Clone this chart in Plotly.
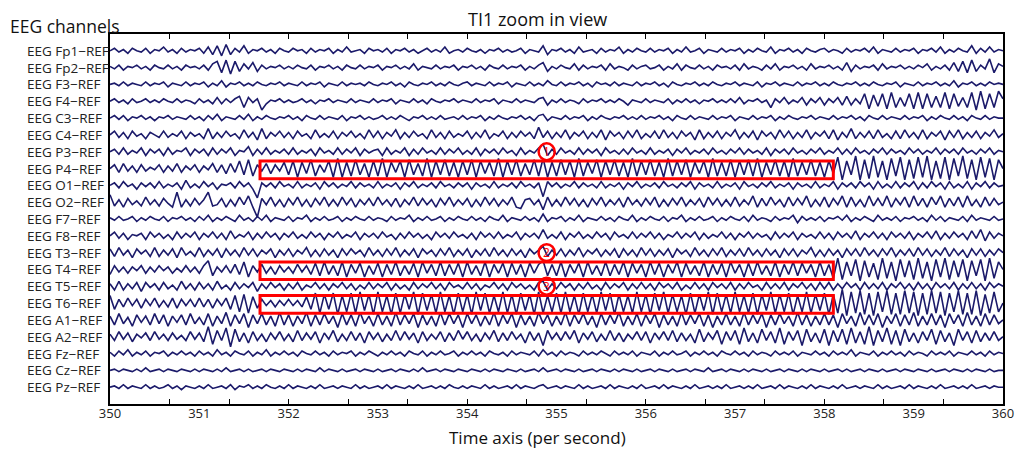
import numpy as np
import plotly.graph_objects as go

# ---------------- data (amplitudes in µV-like units, 20 samples / s) ----
T_START, T_END = 350, 360
CHANNELS = ["EEG Fp1\u2212REF", "EEG Fp2\u2212REF", "EEG F3\u2212REF", "EEG F4\u2212REF",
            "EEG C3\u2212REF", "EEG C4\u2212REF", "EEG P3\u2212REF", "EEG P4\u2212REF",
            "EEG O1\u2212REF", "EEG O2\u2212REF", "EEG F7\u2212REF", "EEG F8\u2212REF",
            "EEG T3\u2212REF", "EEG T4\u2212REF", "EEG T5\u2212REF", "EEG T6\u2212REF",
            "EEG A1\u2212REF", "EEG A2\u2212REF", "EEG Fz\u2212REF", "EEG Cz\u2212REF",
            "EEG Pz\u2212REF"]

FP1 = [0,2,-1,1,-2,2,0,-1,2,-2,1,0,3,-1,1,-2,2,-1,1,0,
       2,-2,3,-3,4,-4,5,-3,2,-1,4,-2,1,0,2,-1,1,-2,2,0,
       -1,2,0,1,-2,2,-1,1,0,2,-2,1,-1,3,-1,0,1,-2,2,0,
       1,-1,2,-2,1,0,2,-1,1,-2,0,2,-1,1,-1,3,-2,0,1,-1,
       2,0,-1,1,-2,1,0,2,-1,1,-1,0,2,-2,1,0,-1,4,-3,1,
       0,2,-1,1,-2,3,-1,0,1,-2,2,-1,1,0,3,-2,1,-1,2,0,
       -1,2,-1,1,0,2,-2,1,-1,3,-1,0,2,-2,1,0,-1,2,-1,1,
       0,2,-2,1,-1,2,0,-1,3,-2,1,0,2,-1,1,-2,2,0,-1,1,
       2,-1,1,0,-2,2,-1,1,0,2,-1,3,-2,1,0,-1,2,-1,1,0,
       2,-2,1,0,2,-1,3,-2,1,-1,2,0,-1,4,-2,2,-1,3,-1,1,0]
FP2 = [1,-1,2,-2,1,0,2,-1,1,-2,2,0,-1,2,-1,1,-2,2,0,1,
       -1,2,-2,3,5,-4,6,-5,5,-3,3,-1,4,-3,2,-1,1,0,2,-1,
       1,-1,2,0,-1,2,-2,1,0,2,-1,1,-2,2,0,-1,2,-1,1,0,
       2,-2,1,0,2,-1,1,-1,3,-2,1,0,-1,2,-1,1,0,2,-2,1,
       0,2,-1,1,-2,2,0,-1,2,-1,1,0,2,-2,1,-1,2,4,-3,1,
       -1,2,0,-1,3,-2,2,-1,1,0,2,-2,3,-1,1,0,-2,2,-1,1,
       2,-1,0,2,-2,1,-1,3,-2,2,0,-1,2,-1,1,-2,2,0,1,-1,
       2,-2,3,-1,1,0,-2,2,-1,3,-2,1,0,2,-1,1,-2,3,-1,1,
       0,2,-1,1,-2,4,-3,2,-1,1,0,2,-2,3,-1,1,0,2,-1,1,
       -1,2,0,3,-2,1,-1,2,-2,4,-3,5,-4,6,-3,2,-1,7,-4,3,1]
F3 = [0,1,-1,2,-1,1,0,-1,2,-1,1,0,2,-2,1,0,-1,2,-1,1,
      0,2,-2,1,-1,3,-2,1,0,2,-1,1,-1,2,0,-1,1,0,2,-1,
      1,0,-1,2,-1,1,0,2,-2,1,0,-1,2,-1,1,0,1,-1,2,0,
      -1,1,0,2,-1,1,-2,2,0,-1,1,0,2,-1,1,-1,2,0,-1,1,
      2,-1,1,0,-1,2,-1,1,0,2,-2,1,0,-1,2,-1,1,-1,3,0,
      -1,2,-1,1,0,2,-1,1,-2,2,0,1,-1,2,-1,1,0,-1,2,-1,
      1,0,2,-1,1,-2,2,0,-1,1,0,2,-1,1,-1,2,0,-1,1,0,
      2,-1,1,0,-1,2,-2,1,0,2,-1,1,0,-1,2,-1,1,0,2,-1,
      1,-1,2,0,-1,1,0,2,-1,1,-1,2,0,-1,1,0,2,-2,1,0,
      -1,2,-1,1,0,2,-1,1,-1,3,-2,1,0,2,-1,1,-1,2,0,1,0]
F4 = [0,2,-1,1,-2,2,-1,0,2,-1,1,-1,2,0,-1,2,-1,1,0,-2,
      2,-1,1,-2,3,-2,2,-1,2,4,-5,3,-1,2,-7,-2,1,0,2,-1,
      1,-1,0,2,-1,1,-2,1,0,2,-1,1,0,-1,2,-1,1,0,-1,2,
      -1,1,0,2,-2,1,0,-1,2,-1,1,-2,2,0,-1,1,0,2,-1,1,
      0,-1,2,-1,1,0,2,-2,1,0,-1,2,-1,1,0,-1,2,3,-3,1,
      -1,2,-1,1,0,-2,2,-1,1,0,2,-1,1,-1,2,0,-3,1,0,-1,
      2,-1,1,0,-1,2,-2,1,-1,2,-1,1,-2,1,0,2,-1,1,-1,2,
      -1,3,-2,1,0,2,-1,1,-5,2,-1,3,-2,1,-1,3,-3,2,-1,3,
      -3,2,-1,3,-3,4,-3,2,-2,6,-6,5,-4,6,-6,7,-5,3,-4,6,
      -6,7,-6,6,-5,4,-5,7,-6,6,-4,3,-5,7,-7,8,-6,6,-5,8,2]
C3 = [0,2,-1,2,-2,1,0,2,-1,1,-2,1,0,2,-1,1,0,-1,2,-1,
      1,-2,2,-1,3,-2,1,0,-1,2,-1,3,-2,1,-1,2,0,-1,1,0,
      2,-1,1,-2,2,0,-1,2,-1,1,0,-1,2,-2,1,0,2,-1,1,-1,
      0,2,-1,1,-1,2,0,-2,1,0,2,-1,1,-1,2,-1,0,1,-1,2,
      -1,1,0,2,-2,1,-1,2,0,-1,1,0,2,-1,1,-2,2,3,-2,1,
      0,-1,2,-1,1,0,2,-2,1,-1,2,0,-1,1,0,2,-1,1,-1,2,
      -1,1,0,2,-1,1,-2,2,0,-1,2,-1,1,0,-1,2,-1,1,0,2,
      -2,1,0,-1,2,-1,1,0,2,-2,1,-1,2,0,-1,1,0,2,-1,1,
      0,-1,2,-1,1,0,2,-1,1,-2,2,0,-1,2,-1,1,0,-1,2,-1,
      1,0,2,-2,1,-1,2,0,-1,2,-1,1,-2,2,0,-1,2,-1,1,0,0]
C4 = [0,3,-2,2,-3,3,-1,1,-3,2,0,-2,3,-2,1,-1,3,-3,2,-1,
      1,-3,5,-3,2,-2,3,-1,1,-3,4,-2,2,-4,5,-3,2,-1,3,-2,
      2,-3,3,-1,1,-3,4,-2,1,-2,3,-3,2,-1,3,-2,1,-3,4,-2,
      3,-3,2,-1,4,-3,2,-2,3,-1,1,-3,4,-2,2,-3,3,-2,1,-1,
      3,-3,2,-2,4,-3,1,-1,3,-3,2,-2,3,-1,2,-3,6,-2,3,-3,
      2,-2,4,-3,2,-1,3,-3,2,-2,4,-4,3,-1,2,-3,3,-2,4,-3,
      1,-2,3,-3,4,-2,2,-3,3,-1,2,-4,4,-3,2,-2,3,-3,2,-1,
      4,-3,2,-2,3,-4,3,-1,2,-3,4,-2,3,-3,2,-2,4,-3,2,-1,
      3,-3,4,-4,2,-2,5,-3,2,-2,3,-3,4,-2,1,-3,3,-3,4,-2,
      2,-3,4,-3,2,-1,3,-4,3,-2,4,-3,2,-2,3,-3,2,-1,4,-2,1]
P3 = [0,2,-2,3,-2,1,-1,3,-3,2,-1,2,-3,3,-2,1,0,3,-3,2,
      -1,2,-3,3,-2,2,-1,3,-3,1,0,4,-3,2,-2,3,-2,1,-1,2,
      -2,3,-2,1,-1,2,-3,3,-1,1,-2,3,-2,2,-1,3,-3,2,-1,1,
      2,-3,3,-2,1,-1,3,-3,2,-2,3,-1,1,-2,3,-2,2,-1,3,-2,
      1,-2,3,-3,2,-1,2,-2,3,-1,1,-3,3,-2,1,-1,3,6,-3,2,
      -2,3,-1,1,-2,3,-2,2,-1,2,-3,3,-1,1,-2,2,-2,3,-1,1,
      -2,3,-2,1,-1,2,-3,2,-1,3,-2,1,-1,2,-2,3,-1,1,-2,2,
      -1,3,-2,2,-1,1,-2,3,-3,2,-1,2,-2,3,-1,1,-2,2,-1,3,
      -2,1,-1,3,-2,2,-2,3,-1,1,-2,2,-1,3,-2,2,-1,1,-2,3,
      -1,2,-2,1,-1,3,-2,2,-1,2,-2,3,-1,1,-2,2,-1,3,-2,1,0]
P4 = [0,3,-3,4,-2,2,-3,3,-2,1,-1,3,-3,2,-2,4,-3,2,-1,3,
      -3,2,-1,4,-3,3,-4,4,-3,6,-5,7,-6,3,-2,4,-4,3,-2,5,
      -5,6,-7,5,-4,7,-6,3,-3,6,-7,8,-7,5,-6,7,-5,4,-7,6,
      -6,8,-7,5,-3,6,-7,7,-5,4,-6,8,-7,6,-5,7,-6,5,-7,6,
      -5,7,-7,6,-4,5,-6,8,-7,6,-5,7,-6,4,-5,7,-6,8,-7,5,
      -6,7,-5,6,-7,8,-6,5,-4,7,-7,6,-5,7,-6,5,-7,8,-6,6,
      -5,7,-6,5,-7,8,-6,6,-5,7,-7,5,-4,6,-7,8,-6,5,-6,7,
      -7,6,-5,7,-6,8,-7,5,-5,7,-6,6,-7,8,-6,5,-5,7,-6,5,
      -7,6,-4,9,-9,6,-5,10,-9,7,-8,10,-7,6,-9,8,-6,9,-9,7,
      -8,9,-7,10,-9,6,-8,9,-9,8,-6,10,-8,7,-9,9,-7,8,-9,7,0]
O1 = [0,2,-2,3,-1,1,-3,2,-1,2,-2,3,-2,1,-1,2,-3,4,-2,1,
      -2,3,-1,2,-3,1,0,2,-2,3,-1,2,-3,-10,2,-1,2,-2,3,-1,
      1,-2,3,-2,1,-1,2,-3,3,-1,2,-2,1,-1,3,-2,2,-1,1,-2,
      3,-2,1,-1,2,-3,2,-1,3,-2,1,-1,2,-2,3,-1,1,-2,2,-1,
      2,-3,2,-1,1,-2,3,-2,1,-1,2,-2,3,-1,1,-2,2,-9,3,-1,
      2,-2,1,-1,3,-2,2,-1,1,-2,3,-2,1,-1,2,-3,2,-1,3,-2,
      1,-1,2,-2,3,-1,1,-2,2,-1,3,-3,2,-1,1,-2,3,-2,1,-1,
      2,-3,3,-1,1,-2,2,-1,3,-2,1,-1,2,-3,2,-1,1,-2,3,-2,
      1,-1,3,-3,2,-1,2,-2,3,-1,2,-3,3,-2,1,-2,3,-2,2,-1,
      3,-3,2,-2,3,-1,2,-3,3,-2,1,-2,3,-3,2,-1,3,-2,2,-1,0]
O2 = [6,-3,2,-4,3,-2,1,-3,4,-2,2,-3,3,-1,-4,8,-4,2,-3,3,
      -2,2,8,-3,-2,3,-4,2,-3,4,-2,5,-4,-12,3,-2,4,-3,2,-4,
      3,-2,4,-3,2,-4,3,-2,4,-3,2,-3,4,-2,3,-4,2,-2,3,-3,
      4,-2,2,-3,3,-4,2,-2,4,-3,3,-2,2,-4,3,-2,4,-3,2,-2,
      3,-4,2,-3,4,-2,3,-3,2,-2,4,-4,-5,2,3,-2,2,-6,4,-3,
      2,-3,4,-2,3,-3,2,-4,3,-2,4,-3,2,-2,3,-4,4,-2,2,-3,
      3,-2,4,-4,2,-3,3,-2,4,-3,2,-2,3,-4,4,-2,3,-3,2,-3,
      4,-3,2,-2,5,-4,3,-3,4,-2,2,-4,4,-3,3,-2,5,-4,2,-3,
      4,-4,3,-2,5,-4,4,-3,2,-4,5,-3,3,-3,5,-4,3,-2,4,-4,
      5,-3,3,-4,4,-2,5,-4,3,-3,4,-4,5,-3,2,-4,4,-3,3,-2,0]
F7 = [1,-1,2,-1,0,2,-2,1,-1,2,0,-1,2,-2,1,0,2,-1,1,-2,
      2,-1,3,-2,1,-1,2,0,-2,3,-1,1,-2,2,-1,3,-2,1,0,-1,
      2,-2,1,0,3,-2,1,-1,2,-1,0,2,-2,1,-1,2,0,-1,2,-1,
      1,0,-2,2,-1,1,0,3,-2,1,-1,2,-1,0,2,-2,1,-1,2,0,
      -1,2,-1,1,-2,2,0,-1,3,-2,1,0,-1,2,-1,1,-2,4,-2,1,
      0,2,-2,1,-1,3,-2,1,0,-1,2,-1,1,-2,2,0,-1,3,-2,1,
      -1,2,0,-1,2,-2,1,0,3,-2,1,-1,2,-1,0,2,-2,1,-1,2,
      0,-1,2,-2,3,-1,1,0,-2,2,-1,1,0,3,-3,2,-1,1,-1,2,
      -2,1,0,2,-1,3,-2,1,-1,2,0,-2,3,-1,1,-1,2,-2,1,0,
      2,-1,1,-2,3,-1,2,-2,1,0,-1,2,-2,3,-1,1,0,-1,2,-1,0]
F8 = [0,3,-2,2,-3,1,0,2,-3,3,-1,2,-2,1,-3,3,-2,2,-1,3,
      -3,2,-1,3,-2,2,-3,4,-2,1,-1,3,-3,2,-2,3,-1,2,-3,2,
      -1,3,-2,1,-2,3,-1,2,-3,2,-1,3,-2,1,-1,3,-3,2,-1,2,
      -2,3,-1,1,-3,2,-2,3,-1,2,-2,1,-3,3,-1,2,-2,3,-1,1,
      -2,2,-3,3,-1,2,-2,3,-2,1,-1,3,-3,2,-1,2,-2,5,-2,1,
      -2,3,-3,2,-1,3,-2,1,-2,3,-1,2,-3,3,-1,1,-2,3,-2,2,
      -1,3,-2,2,-3,1,-1,3,-2,2,-1,3,-3,2,-2,1,-1,3,-2,2,
      -3,2,-1,3,-2,2,-1,1,-3,3,-2,2,-1,3,-3,2,-1,1,-2,3,
      -2,2,-3,3,-1,2,-2,4,-3,2,-1,3,-2,2,-3,3,-1,2,-2,3,
      -3,2,-1,3,-2,4,-3,2,-2,3,-1,2,-3,4,-2,5,-4,3,-2,2,0]
T3 = [3,-3,4,-2,2,-4,3,-1,2,-3,4,-3,2,-2,3,-4,4,-2,1,-3,
      4,-3,2,-2,3,-4,3,-2,2,-3,4,-2,3,-3,2,-1,3,-4,2,-2,
      3,-3,2,-1,4,-3,2,-3,3,-2,2,-4,3,-2,3,-1,2,-3,4,-2,
      2,-3,3,-2,4,-3,2,-2,3,-4,3,-1,2,-3,3,-2,4,-3,2,-2,
      3,-4,2,-2,3,-3,4,-2,2,-3,3,-2,2,-4,3,-1,2,5,-3,2,
      -2,3,-3,2,-2,4,-3,2,-1,3,-3,2,-2,3,-4,3,-2,2,-3,4,
      -2,3,-3,2,-2,3,-4,3,-1,2,-3,4,-2,2,-3,3,-2,4,-3,2,
      -2,3,-3,4,-2,2,-3,3,-2,2,-4,3,-2,3,-3,2,-1,4,-3,2,
      -3,3,-2,2,-4,3,-2,3,-3,4,-2,2,-3,3,-2,4,-3,2,-2,3,
      -3,4,-2,3,-3,2,-2,4,-3,3,-2,2,-4,3,-2,3,-3,2,-2,3,0]
T4 = [-4,3,-2,2,-3,2,-1,3,-3,2,-2,3,-1,2,-3,1,-2,3,-2,2,
      -3,3,7,-5,2,-2,3,-3,4,-4,6,-6,3,-2,4,-3,2,-4,3,-2,
      2,-3,4,-2,3,-4,5,-5,6,-4,3,-5,6,-6,4,-3,5,-6,3,-4,
      5,-6,4,-4,6,-5,3,-4,5,-6,6,-3,4,-5,6,-5,4,-4,5,-6,
      6,-4,3,-5,6,-6,4,-3,5,-6,5,-4,4,-6,5,-3,4,7,-5,4,
      -5,6,-6,4,-3,5,-6,6,-4,3,-5,6,-5,4,-4,6,-6,5,-3,4,
      -6,6,-4,5,-6,4,-3,6,-6,5,-4,3,-5,6,-6,4,-4,5,-6,6,
      -3,4,-6,5,-5,6,-4,3,-5,6,-6,4,-4,6,-5,5,-3,4,-6,6,
      -5,4,-7,9,-8,6,-5,8,-9,7,-6,5,-8,9,-7,6,-9,8,-6,7,
      -8,9,-7,6,-9,8,-6,9,-8,7,-6,8,-9,7,-5,8,-9,9,-7,6,0]
T5 = [2,-3,4,-3,2,-2,3,-4,3,-1,2,-3,3,-2,1,-3,4,-2,2,-3,
      3,-2,2,-3,4,-2,1,-3,3,-2,2,-1,3,-4,2,-2,3,-1,2,-3,
      2,-2,3,-3,1,-1,3,-2,2,-3,2,-1,3,-2,2,-3,1,-2,3,-2,
      2,-1,3,-3,2,-2,1,-3,3,-2,2,-1,3,-2,2,-3,3,-1,1,-2,
      3,-2,2,-3,1,-1,3,-2,2,-3,3,-1,2,-2,1,-3,3,4,-3,2,
      -2,3,-1,2,-3,2,-2,3,-2,1,-3,3,-2,2,-1,3,-3,2,-2,3,
      -2,2,-3,3,-1,2,-2,3,-3,1,-2,3,-2,2,-3,3,-1,2,-2,3,
      -3,2,-2,3,-1,1,-3,3,-2,2,-2,3,-3,2,-1,3,-2,2,-3,3,
      -2,3,-3,2,-2,3,-1,2,-3,3,-2,2,-2,3,-3,2,-1,3,-2,2,
      -3,3,-2,2,-3,3,-1,2,-2,3,-3,2,-2,3,-2,2,-3,3,-1,2,0]
T6 = [6,-5,3,-3,4,-2,3,-4,3,-2,4,-3,2,-3,4,-4,3,-2,3,-3,
      4,-3,3,-4,3,-2,4,-5,6,-7,7,-8,5,-4,3,-2,2,-3,2,-2,
      3,-2,2,-3,5,-5,8,-8,7,-5,8,-9,6,-7,8,-8,9,-6,7,-9,
      9,-7,6,-9,8,-8,7,-5,9,-9,8,-6,7,-8,9,-7,6,-9,8,-7,
      7,-9,9,-6,8,-8,6,-7,9,-8,7,-9,8,-6,7,-9,9,-8,6,-7,
      8,-8,9,-7,6,-9,8,-7,7,-8,9,-6,8,-9,7,-7,6,-8,9,-7,
      7,-9,8,-6,9,-8,7,-7,6,-9,8,-8,7,-6,9,-9,8,-7,7,-8,
      9,-7,6,-8,8,-9,7,-6,9,-8,7,-7,8,-9,6,-7,9,-8,7,-6,
      8,-9,7,-8,11,-10,9,-8,10,-9,8,-10,9,-7,10,-9,8,-9,10,-8,
      9,-10,8,-9,10,-8,9,-10,8,-7,10,-9,8,-9,10,-10,7,-8,9,-7,0]
A1 = [3,-4,5,-3,2,-5,4,-2,3,-4,5,-3,4,-5,3,-2,4,-4,5,-3,
      2,-4,5,-5,3,-3,6,-5,4,-3,5,-6,4,-3,5,-4,3,-5,6,-4,
      4,-5,3,-3,6,-5,4,-4,5,-3,3,-6,5,-4,4,-5,6,-3,3,-5,
      5,-4,3,-5,6,-4,4,-3,5,-6,4,-4,3,-5,6,-4,5,-3,4,-6,
      5,-3,4,-5,3,-4,6,-5,4,-3,5,-6,4,-4,3,-5,6,-3,4,-5,
      3,-4,6,-5,4,-3,5,-4,3,-6,5,-4,4,-3,6,-5,3,-4,5,-5,
      4,-3,5,-6,4,-4,3,-5,6,-4,4,-3,5,-5,4,-6,3,-4,5,-4,
      3,-5,6,-4,4,-3,5,-6,4,-4,5,-3,3,-5,6,-4,4,-5,3,-4,
      5,-4,4,-6,5,-3,3,-5,6,-4,4,-4,5,-6,3,-3,5,-5,4,-4,
      6,-5,3,-4,5,-4,4,-6,5,-3,4,-5,6,-4,3,-5,5,-4,4,-3,0]
A2 = [2,-3,4,-2,3,-4,2,-1,3,-3,4,-2,2,-3,3,-2,1,-3,4,-2,
      3,-4,8,-6,5,-3,7,-8,6,-4,3,-5,4,-3,2,-4,3,-2,4,-3,
      2,-4,5,-3,3,-2,4,-5,3,-2,5,-4,2,-3,4,-3,3,-5,4,-2,
      3,-4,2,-3,5,-3,4,-2,3,-5,4,-3,2,-2,4,-4,3,-3,5,-2,
      4,-3,2,-4,3,-2,5,-4,3,-3,4,-2,2,-5,4,-3,3,-7,5,-2,
      3,-3,4,-2,5,-5,3,-2,4,-4,2,-3,5,-3,3,-4,2,-2,4,-3,
      4,-5,3,-2,4,-3,5,-4,3,-3,2,-5,6,-4,3,-2,5,-6,4,-3,
      5,-6,7,-4,3,-5,6,-3,4,-5,7,-6,4,-3,5,-7,6,-4,3,-5,
      6,-7,5,-4,6,-6,7,-5,4,-6,8,-7,5,-4,7,-6,5,-7,6,-4,
      3,-5,4,-3,6,-6,5,-4,3,-7,6,-3,4,-5,5,-4,3,-3,4,-3,0]
FZ = [1,-2,2,-1,3,-2,1,-1,2,-2,1,0,2,-2,1,-1,2,-1,1,-2,
      2,-1,1,-2,3,-1,1,-2,2,0,-1,2,-2,1,-1,3,-2,1,-1,2,
      -1,1,-2,2,0,-1,2,-1,1,-2,2,-1,1,0,2,-2,1,-1,2,0,
      -2,1,-1,2,-1,1,-2,2,0,-1,2,-2,1,-1,2,-1,0,2,-2,1,
      -1,2,-1,1,-2,2,0,-1,1,-2,2,-1,1,0,-1,2,-2,3,-1,1,
      -2,2,-1,1,0,-2,2,-1,1,-1,2,0,-2,2,-1,1,-1,2,-2,1,
      0,-1,2,-2,1,-1,2,-1,0,2,-2,1,-1,2,-1,1,-2,2,0,-1,
      2,-1,1,-2,2,-1,1,0,-2,2,-1,1,-1,2,-2,1,0,-1,2,-1,
      1,-2,2,-1,1,-1,3,-2,1,0,-1,2,-2,1,-1,2,-1,1,-2,2,
      -1,1,0,-2,2,-1,1,-1,2,-2,1,0,-1,2,-1,1,-2,2,-1,1,0]
CZ = [0,1,-1,1,0,-1,1,-1,2,-1,0,1,-1,1,0,-1,1,0,-1,1,
      -1,1,0,-1,1,-1,2,-1,0,1,-1,1,-1,0,1,-1,1,0,-1,1,
      0,-1,1,-1,1,0,-1,2,-1,1,0,-1,1,-1,0,1,-1,1,0,-1,
      1,-1,0,1,-1,1,0,-1,1,-1,2,-1,0,1,-1,1,0,-1,1,0,
      -1,1,0,-1,1,-1,1,0,-1,1,0,-1,1,-1,0,1,-1,2,-1,0,
      1,-1,1,0,-1,1,-1,0,1,-1,1,0,-1,1,-1,1,0,-1,1,-1,
      0,1,-1,1,0,-1,1,-1,0,1,-1,1,0,-1,2,-1,0,1,-1,1,
      0,-1,1,-1,1,0,-1,1,-1,0,1,-1,1,0,-1,1,-1,1,0,-1,
      1,-1,0,1,-1,1,-1,0,1,-1,1,0,-1,1,-1,0,1,-1,1,0,
      -1,1,0,-1,1,-1,0,1,-1,1,0,-1,1,-1,1,0,-1,1,-1,0,0]
PZ = [0,1,-1,2,-1,1,0,-1,2,-1,1,-1,0,2,-1,1,-2,1,0,-1,
      1,-1,2,-1,0,1,-1,2,-2,1,0,2,-1,1,-1,2,0,-1,1,-1,
      2,-1,1,0,-1,1,-1,2,-1,0,1,-1,1,0,-1,2,-1,1,-1,0,
      1,-1,2,-1,1,0,-1,1,-1,2,-1,0,1,-1,1,-1,2,0,-1,1,
      -1,1,0,-1,2,-1,1,-1,0,1,-1,2,-1,1,0,-1,1,2,-1,0,
      1,-1,1,0,-1,2,-1,1,-1,0,1,-1,2,-1,1,0,-1,1,-1,2,
      -1,0,1,-1,2,-1,1,0,-1,1,-1,2,-1,0,1,-1,1,-1,2,-1,
      0,1,-1,1,-1,2,-1,0,1,-1,2,-1,1,0,-1,1,-1,2,-1,1,
      0,-1,1,-1,2,-1,0,1,-1,1,0,-1,2,-1,1,-1,0,1,-1,2,
      -1,1,0,-1,1,-1,2,-1,0,1,-1,1,-1,2,-1,0,1,-1,1,0,0]

SIGNALS = [FP1, FP2, F3, F4, C3, C4, P3, P4, O1, O2, F7, F8,
           T3, T4, T5, T6, A1, A2, FZ, CZ, PZ]

# marked regions (time span, channel) and marker labels (time, channel)
BOX_T = [351.68, 358.10]
BOX_CHANNELS = ["EEG P4\u2212REF", "EEG T4\u2212REF", "EEG T6\u2212REF"]
MARK_T = 354.89
MARK_CHANNELS = ["EEG P3\u2212REF", "EEG T3\u2212REF", "EEG T5\u2212REF"]
MARK_LABELS = ["1", "2", "3"]

X_LABELS = list(range(350, 361))
X_TICKS = [350 + k * 2 / 3 for k in range(16)]

# ---------------- figure ----------------
N = len(CHANNELS)
GAIN = 1.25 / 16.8          # amplitude unit -> row units
LINE_COLOR = "#1b1a6a"
RED = "#ff0000"
FONT = "Open Sans"

L, R, T, B = 110, 13, 34, 46
PW = 1016 - L - R
PH = 450 - T - B

row_of = {name: N - i for i, name in enumerate(CHANNELS)}

fig = go.Figure()
for name, sig in zip(CHANNELS, SIGNALS):
    v = np.asarray(sig, dtype=float)
    t = np.linspace(T_START, T_END, len(v))
    fig.add_trace(go.Scatter(x=t, y=row_of[name] + v * GAIN, mode="lines",
                             line=dict(color=LINE_COLOR, width=1.6),
                             hoverinfo="skip", showlegend=False))
fig.add_trace(go.Scatter(x=[T_START, T_END], y=[0, 0], xaxis="x2", mode="lines",
                         line=dict(width=0), hoverinfo="skip", showlegend=False))

shapes = []
for ch in BOX_CHANNELS:
    r = row_of[ch]
    shapes.append(dict(type="rect", xref="x", yref="y", x0=BOX_T[0], x1=BOX_T[1],
                       y0=r - 0.6, y1=r + 0.45, line=dict(color=RED, width=3),
                       fillcolor="rgba(0,0,0,0)", layer="above"))
annotations = []
for ch, lab in zip(MARK_CHANNELS, MARK_LABELS):
    r = row_of[ch]
    shapes.append(dict(type="circle", xref="x", yref="y", x0=MARK_T - 0.09, x1=MARK_T + 0.09,
                       y0=r - 0.5, y1=r + 0.5, line=dict(color=RED, width=2.5),
                       fillcolor="rgba(0,0,0,0)", layer="above"))
    annotations.append(dict(x=MARK_T, y=r, xref="x", yref="y", text=lab, showarrow=False,
                            font=dict(family=FONT, size=12, color=RED),
                            xanchor="center", yanchor="middle"))

for name in CHANNELS:
    annotations.append(dict(x=-85 / PW, y=row_of[name], xref="paper", yref="y", text=name,
                            showarrow=False, xanchor="left", yanchor="middle",
                            font=dict(family=FONT, size=13.5, color="#222222")))

annotations.append(dict(x=-102 / PW, y=(450 - B - 26) / PH, xref="paper", yref="paper",
                        text="EEG channels", showarrow=False, xanchor="left", yanchor="middle",
                        font=dict(family=FONT, size=17.5, color="#111111")))
annotations.append(dict(x=(537 - L) / PW, y=(450 - B - 19) / PH, xref="paper", yref="paper",
                        text="TI1 zoom in view", showarrow=False, xanchor="center",
                        yanchor="middle", font=dict(family=FONT, size=18, color="#111111")))
annotations.append(dict(x=(537 - L) / PW, y=(450 - B - 437) / PH, xref="paper", yref="paper",
                        text="Time axis (per second)", showarrow=False, xanchor="center",
                        yanchor="middle", font=dict(family=FONT, size=17, color="#111111")))

fig.update_layout(
    width=1016, height=450,
    margin=dict(l=L, r=R, t=T, b=B, autoexpand=False),
    paper_bgcolor="white", plot_bgcolor="white",
    shapes=shapes, annotations=annotations,
    xaxis=dict(range=[T_START, T_END], tickvals=X_TICKS, ticks="inside", ticklen=5,
               tickwidth=1.3, tickcolor="black", showticklabels=False, showgrid=False,
               zeroline=False, showline=True, linecolor="black", linewidth=1.5,
               mirror="ticks", automargin=False),
    xaxis2=dict(range=[T_START, T_END], overlaying="x", side="bottom", anchor="y",
                tickvals=X_LABELS, ticktext=[str(v) for v in X_LABELS], ticks="",
                showgrid=False, zeroline=False, showline=False, automargin=False,
                tickfont=dict(family=FONT, size=13, color="#222222")),
    yaxis=dict(range=[0, N + 1], showticklabels=False, ticks="", showgrid=False,
               zeroline=False, showline=True, linecolor="black", linewidth=1.5, mirror=True,
               automargin=False),
)

fig.write_html("out.html")
